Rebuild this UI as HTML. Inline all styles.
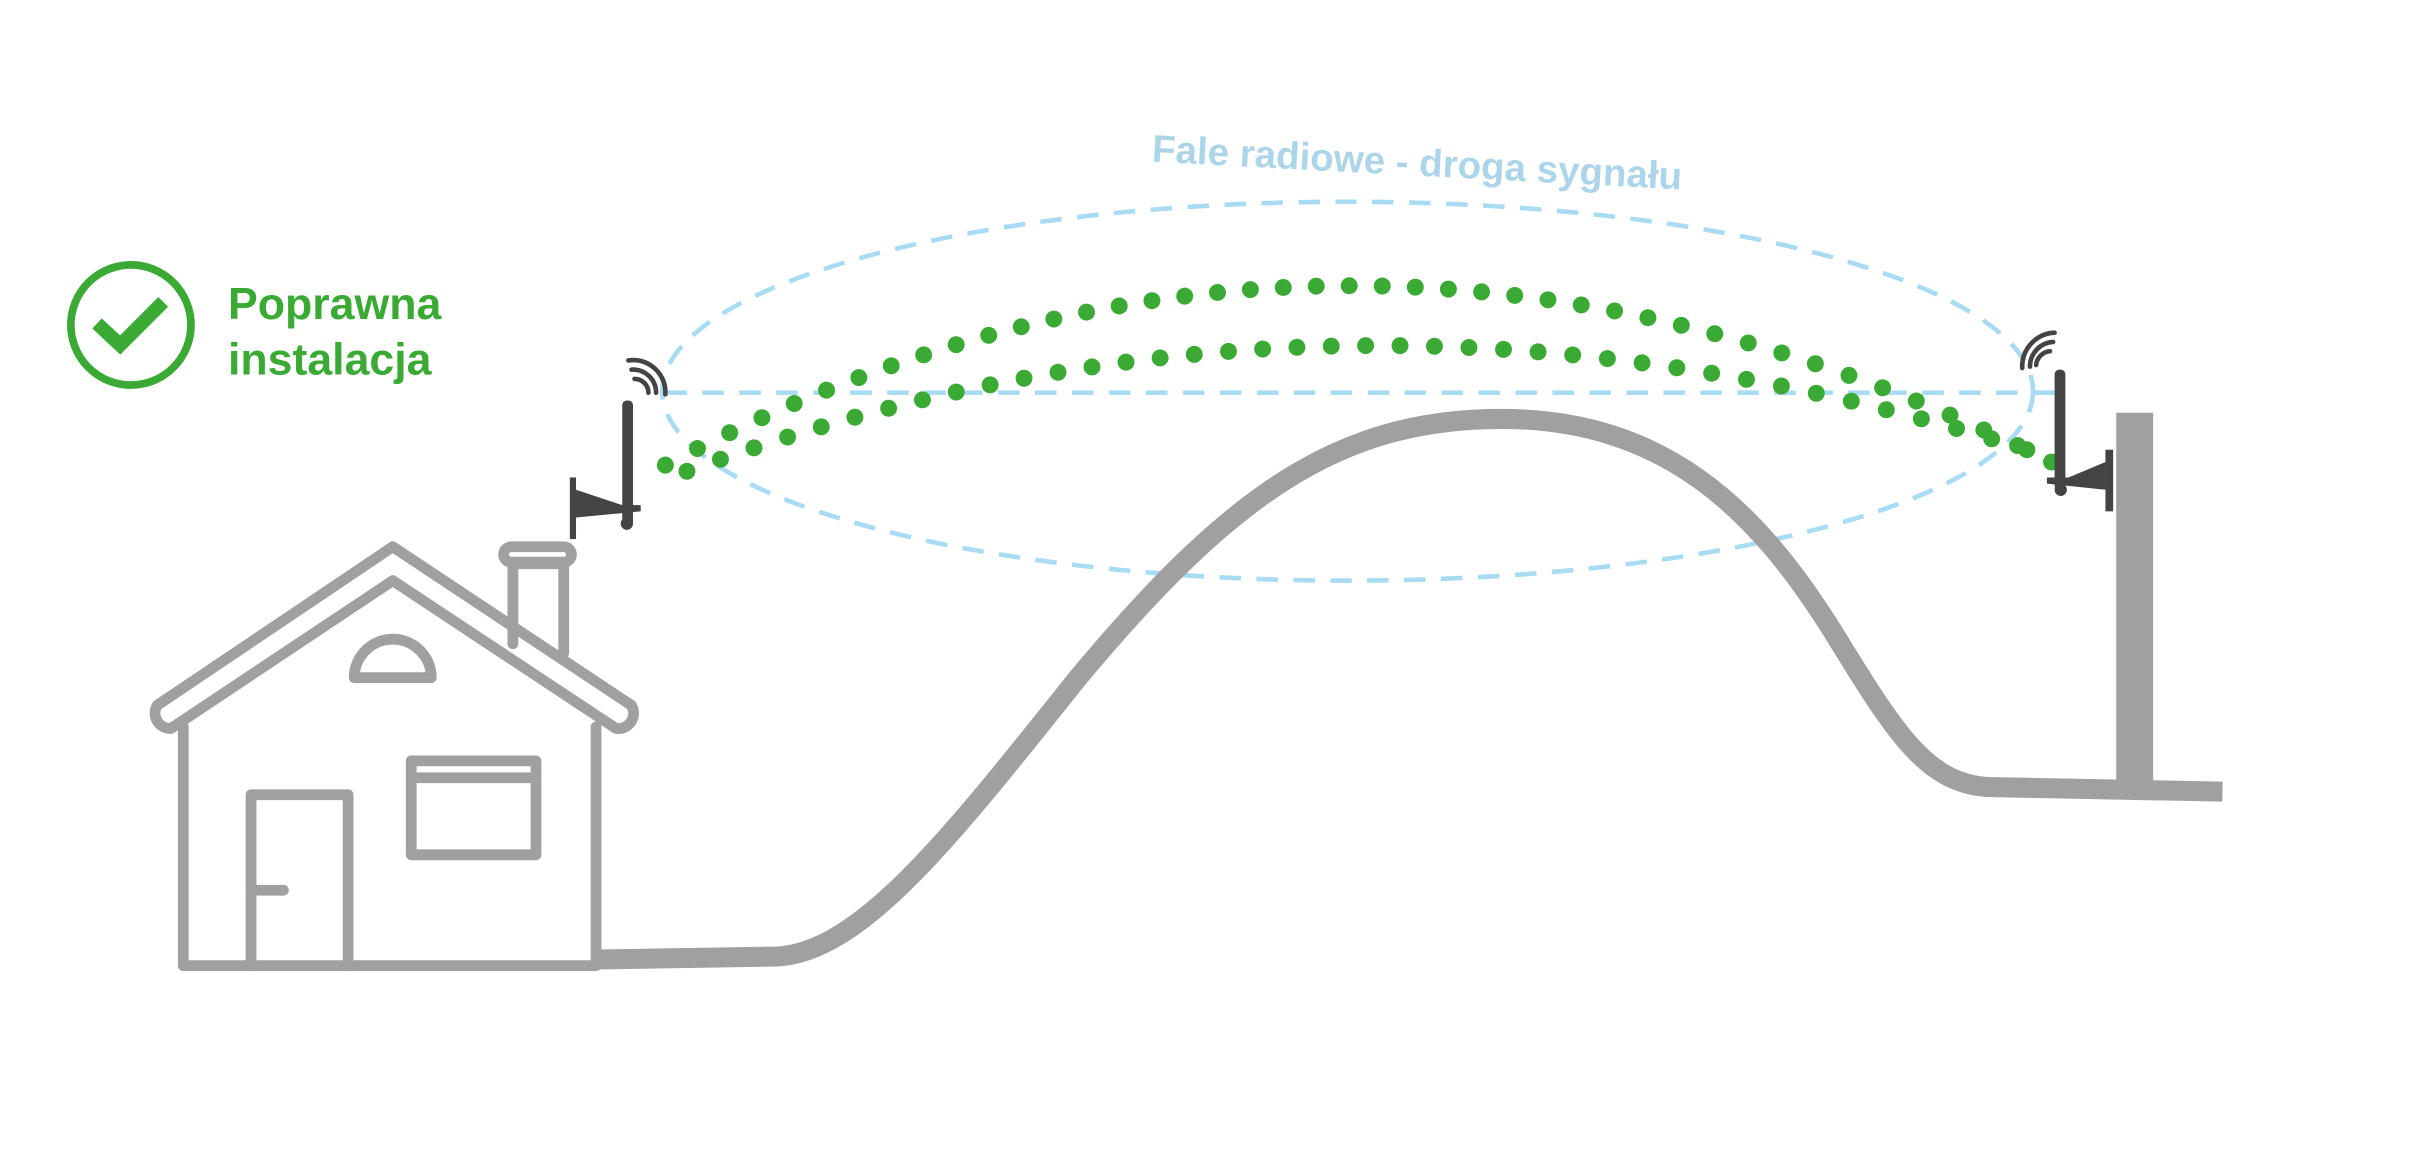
<!DOCTYPE html>
<html><head><meta charset="utf-8"><style>html,body{margin:0;padding:0;background:#fff}svg{display:block}</style></head>
<body>
<svg id="s" width="2415" height="1173" viewBox="0 0 1568 761.6" xmlns="http://www.w3.org/2000/svg">
<rect width="1568" height="762" fill="#fff"/>
<!-- check -->
<circle cx="85" cy="211" r="39" fill="none" stroke="#3aaa35" stroke-width="5"/>
<path d="M63,210 L78,224 L106,196" fill="none" stroke="#3aaa35" stroke-width="9"/>
<text x="148" y="207" font-family="Liberation Sans, sans-serif" font-weight="bold" font-size="29" fill="#3aaa35">Poprawna</text>
<text x="148" y="243" font-family="Liberation Sans, sans-serif" font-weight="bold" font-size="29" fill="#3aaa35">instalacja</text>
<text x="920" y="114" text-anchor="middle" transform="rotate(3 920 108)" font-family="Liberation Sans, sans-serif" font-weight="bold" font-size="25" fill="#acd5ea">Fale radiowe - droga sygnału</text>
<!-- dashed -->
<ellipse cx="875" cy="254" rx="445" ry="123" fill="none" stroke="#a9dcf3" stroke-width="3" stroke-dasharray="14 10"/>
<line x1="432" y1="255" x2="1335" y2="255" stroke="#a9dcf3" stroke-width="3" stroke-dasharray="14 10"/>
<g id="dots" fill="#3aaa35"></g>
<!-- hill -->
<path d="M388,623 L505,621 C560,618 620,540 700,440 C800,320 870,272 975,272 C1080,272 1140,330 1190,410 C1230,475 1250,508 1290,511 L1443,514" fill="none" stroke="#a0a0a0" stroke-width="13"/>
<rect x="1374" y="268" width="24" height="250" fill="#a0a0a0"/>
<!-- house -->
<g fill="none" stroke="#a0a0a0" stroke-width="7" stroke-linejoin="round" stroke-linecap="round">
<path d="M102,458 L255,355 L410,458 a10,10 0 0 1 -10,15 L255,377 L111,473 a10,10 0 0 1 -9,-15Z"/>
<path d="M119,472 L119,627 L387,627 L387,472"/>
<path d="M163,627 L163,516 L226,516 L226,627"/>
<path d="M163,578 L184,578"/>
<rect x="267" y="494" width="81" height="61"/>
<path d="M267,505 L348,505"/>
<path d="M230,440 A25,25 0 0 1 280,440 Z"/>
<path d="M333,418 L333,366 L366,366 L366,424"/>
<rect x="327" y="355" width="44" height="10" rx="5"/>
</g>
<!-- left antenna -->
<g fill="#444">
<rect x="404" y="260" width="7" height="82" rx="3"/>
<rect x="370" y="310" width="4" height="40"/>
<path d="M374,318 L404,328 L416,328 L416,332 L374,336Z"/>
<circle cx="407" cy="340" r="4"/>
</g>
<g fill="none" stroke="#444" stroke-width="3" stroke-linecap="round">
<path d="M412,246 A9,9 0 0 1 421,255"/>
<path d="M410,240 A15,15 0 0 1 426,255"/>
<path d="M408,234 A21,21 0 0 1 432,256"/>
</g>
<!-- right antenna -->
<g fill="#444">
<rect x="1334" y="240" width="7" height="78" rx="3"/>
<rect x="1367" y="292" width="5" height="40"/>
<path d="M1367,300 L1343,310 L1329,310 L1329,314 L1367,318Z"/>
<circle cx="1338" cy="318" r="4"/>
</g>
<g fill="none" stroke="#444" stroke-width="3" stroke-linecap="round">
<path d="M1322,237 A10,10 0 0 1 1331,228"/>
<path d="M1318,238 A16,16 0 0 1 1333,222"/>
<path d="M1313,239 A22,22 0 0 1 1334,216"/>
</g>
</svg>
<script>
var g=document.getElementById('dots');
function arc(x0,y0,cx,cy,x2,y2,n){for(var i=0;i<n;i++){var t=i/(n-1),a=(1-t)*(1-t),b=2*t*(1-t),c=t*t;var c1=document.createElementNS('http://www.w3.org/2000/svg','circle');c1.setAttribute('cx',a*x0+b*cx+c*x2);c1.setAttribute('cy',a*y0+b*cy+c*y2);c1.setAttribute('r',5.5);g.appendChild(c1);}}
arc(432,302,870,70,1332,300,43);
arc(446,306,870,150,1316,292,40);
</script>
</body></html>
